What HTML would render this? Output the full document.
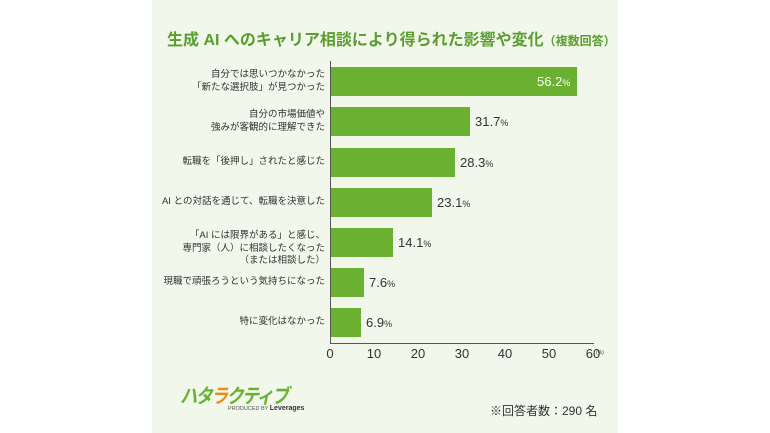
<!DOCTYPE html>
<html><head><meta charset="utf-8"><style>
body{margin:0;width:770px;height:433px;background:#fff;position:relative;overflow:hidden;font-family:"Liberation Sans","Noto Sans CJK JP",sans-serif;}
#p{position:absolute;left:152px;top:0;width:466px;height:433px;background:#f1f7ea;}
.t{position:absolute;white-space:nowrap;}
.bar{position:absolute;left:331px;height:29px;background:#6bb131;}
.lab{position:absolute;right:445px;text-align:right;font-size:9.5px;line-height:12.5px;color:#333;white-space:nowrap;}
.v{position:absolute;font-size:13px;color:#333;}
.v small{font-size:9px;}
.tk{position:absolute;top:346px;font-size:13px;color:#333;width:30px;text-align:center;}
</style></head><body>
<div id="p"></div>
<div class="t" style="left:167px;top:26px;font-size:16px;font-weight:bold;color:#5a9e30;">生成 AI へのキャリア相談により得られた影響や変化<span style="font-size:12px;">（複数回答）</span></div>
<div style="position:absolute;left:330px;top:61px;width:1px;height:282px;background:#555;"></div>
<div style="position:absolute;left:330px;top:343px;width:264px;height:1px;background:#555;"></div>

<div class="bar" style="top:67px;width:246px;"></div>
<div class="bar" style="top:107px;width:139px;"></div>
<div class="bar" style="top:148px;width:124px;"></div>
<div class="bar" style="top:188px;width:101px;"></div>
<div class="bar" style="top:228px;width:62px;"></div>
<div class="bar" style="top:268px;width:33px;"></div>
<div class="bar" style="top:308px;width:30px;"></div>

<div class="v" style="left:537px;top:74px;color:#fff;">56.2<small>%</small></div>
<div class="v" style="left:475px;top:114px;">31.7<small>%</small></div>
<div class="v" style="left:460px;top:155px;">28.3<small>%</small></div>
<div class="v" style="left:437px;top:195px;">23.1<small>%</small></div>
<div class="v" style="left:398px;top:235px;">14.1<small>%</small></div>
<div class="v" style="left:369px;top:275px;">7.6<small>%</small></div>
<div class="v" style="left:366px;top:315px;">6.9<small>%</small></div>

<div class="lab" style="top:69px;">自分では思いつかなかった<br>「新たな選択肢」が見つかった</div>
<div class="lab" style="top:109px;">自分の市場価値や<br>強みが客観的に理解できた</div>
<div class="lab" style="top:156px;">転職を「後押し」されたと感じた</div>
<div class="lab" style="top:196px;">AI との対話を通じて、転職を決意した</div>
<div class="lab" style="top:230px;">「AI には限界がある」と感じ、<br>専門家（人）に相談したくなった<br>（または相談した）</div>
<div class="lab" style="top:276px;">現職で頑張ろうという気持ちになった</div>
<div class="lab" style="top:316px;">特に変化はなかった</div>

<div class="tk" style="left:315px;">0</div>
<div class="tk" style="left:359px;">10</div>
<div class="tk" style="left:403px;">20</div>
<div class="tk" style="left:447px;">30</div>
<div class="tk" style="left:490px;">40</div>
<div class="tk" style="left:534px;">50</div>
<div class="tk" style="left:578px;">60</div>
<div class="t" style="left:596px;top:350px;font-size:5px;color:#333;">(%)</div>

<div class="t" style="left:180px;top:380px;font-size:20px;font-weight:bold;font-style:italic;letter-spacing:-2px;color:#6bb131;transform:scaleX(0.86);transform-origin:left;">ハタ<span style="color:#f08a1c;">ラ</span>クティブ</div>
<div class="t" style="left:228px;top:405px;font-size:5.5px;color:#555;">PRODUCED BY <b style="font-size:7px;color:#333;">Leverages</b></div>
<div class="t" style="left:490px;top:402px;font-size:12px;color:#333;">※回答者数：290 名</div>
</body></html>
